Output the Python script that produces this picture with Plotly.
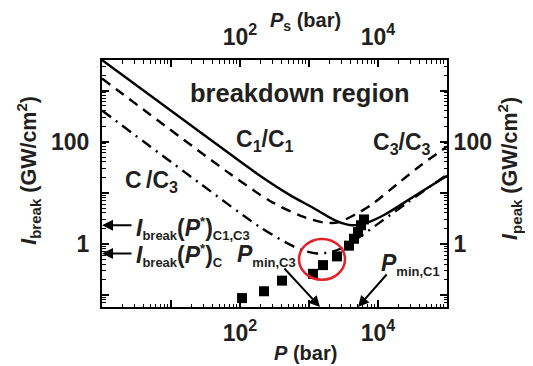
import plotly.graph_objects as go

# ---- data ----
solid_p = [1, 26.3, 195, 531, 1143, 2381, 4200, 7160, 12600, 32100, 100000]
solid_i = [3981, 155, 21.5, 8.96, 5.07, 2.87, 2.30, 2.62, 3.73, 8.21, 21.5]

dash_p = [1, 71.6, 272, 741, 1596, 2630, 4640, 7650, 19500, 40600, 100000]
dash_i = [1730, 23.5, 6.89, 3.57, 2.62, 2.62, 3.73, 5.53, 15.2, 33.4, 80.3]

dd_p = [1, 26.3, 195, 531, 819, 1306, 2228, 3325, 4960, 10700, 26300, 100000]
dd_i = [407, 15.2, 2.11, 0.957, 0.736, 0.645, 0.704, 0.877, 1.25, 2.62, 6.31, 22.5]

sq_p = [107, 223, 406, 1143, 1596, 2545, 3800, 4490, 5130, 5670, 6270]
sq_i = [0.086, 0.117, 0.189, 0.257, 0.381, 0.565, 0.916, 1.25, 1.69, 2.30, 2.99]

x_tickvals = [1, 10, 100, 1000, 10000, 100000]
x_ticktext = ["", "", "<b>10<sup>2</sup></b>", "", "<b>10<sup>4</sup></b>", ""]
y_tickvals = [0.1, 1, 10, 100, 1000]
y_ticktext = ["", "<b>1</b>", "", "<b>100</b>", ""]

FONT = "Liberation Sans, Arial, sans-serif"
TXT = "#231f20"

def minor_vals(lo, hi):
    out = []
    for e in range(lo, hi):
        for m in range(2, 10):
            out.append(m * 10 ** e)
    return out

fig = go.Figure()
fig.add_trace(go.Scatter(x=solid_p, y=solid_i, mode="lines",
                         line=dict(color="black", width=2.4, shape="spline", smoothing=0.8), hoverinfo="skip"))
fig.add_trace(go.Scatter(x=dash_p, y=dash_i, mode="lines", xaxis="x2", yaxis="y2",
                         line=dict(color="black", width=2.4, dash="10px,7px", shape="spline", smoothing=0.8), hoverinfo="skip"))
fig.add_trace(go.Scatter(x=dd_p, y=dd_i, mode="lines",
                         line=dict(color="black", width=2.4, dash="11px,6px,2px,6px", shape="spline", smoothing=0.8), hoverinfo="skip"))
fig.add_trace(go.Scatter(x=sq_p, y=sq_i, mode="markers",
                         marker=dict(symbol="square", size=10, color="black"), hoverinfo="skip"))

axis_common = dict(
    type="log", showgrid=False, zeroline=False, showline=True, linewidth=2, linecolor="black",
    ticks="inside", ticklen=7, tickwidth=1.5, tickcolor="black",
    tickfont=dict(family=FONT, size=23, color=TXT, weight="bold"),
)
minor_x = dict(tickmode="array", tickvals=minor_vals(0, 5), ticks="inside", ticklen=3.5, tickwidth=1, tickcolor="black")
minor_y = dict(tickmode="array", tickvals=minor_vals(-2, 4), ticks="inside", ticklen=3.5, tickwidth=1, tickcolor="black")

# page has an 8px body margin: figure is shrunk so the plot area lands on the reference pixels
fig.update_layout(
    width=525, height=358,
    margin=dict(l=94, r=86, t=45, b=59),
    paper_bgcolor="white", plot_bgcolor="white",
    showlegend=False,
    font=dict(family=FONT, color=TXT),
    xaxis=dict(**axis_common, range=[0, 5], tickmode="array", tickvals=x_tickvals, ticktext=x_ticktext,
               minor=minor_x, anchor="y", ticklabelstandoff=4),
    xaxis2=dict(**axis_common, range=[0, 5], tickmode="array", tickvals=x_tickvals, ticktext=x_ticktext,
                minor=minor_x, overlaying="x", side="top", anchor="y2", ticklabelstandoff=4),
    yaxis=dict(**axis_common, range=[-1.24, 3.6], tickmode="array", tickvals=y_tickvals, ticktext=y_ticktext,
               minor=minor_y, anchor="x", ticklabelstandoff=6),
    yaxis2=dict(**axis_common, range=[-1.24, 3.6], tickmode="array", tickvals=y_tickvals, ticktext=y_ticktext,
                minor=minor_y, overlaying="y", side="right", anchor="x2", ticklabelstandoff=0),
)

# reference-pixel -> paper helpers for annotations
L, R, T, B = 102, 447, 53, 307
def px(x):
    return (x - L) / (R - L)
def py(y):
    return (B - y) / (B - T)

def txt(x, y, text, size=23, xanchor="center", angle=0):
    fig.add_annotation(x=px(x), y=py(y), xref="paper", yref="paper", text=text, showarrow=False,
                       xanchor=xanchor, yanchor="middle", textangle=angle,
                       font=dict(family=FONT, size=size, color=TXT, weight="bold"))

def arrow(hx, hy, tx, ty):
    fig.add_annotation(x=px(hx), y=py(hy), xref="paper", yref="paper", text="", showarrow=True,
                       ax=tx - hx, ay=ty - hy, arrowhead=2, arrowsize=1.1, arrowwidth=2, arrowcolor="black")

def s(t, size=13):
    return f'<span style="font-size:{size}px">{t}</span>'

txt(300, 87, "breakdown region", 25.5)
txt(265, 136, "C<sub>1</sub>/C<sub>1</sub>", 23)
txt(402, 139, "C<sub>3</sub>/C<sub>3</sub>", 23)
txt(151, 178, "C<sub>\u00a0</sub>/C<sub>3</sub>", 23)
txt(134, 226, "<i>I</i><sub>" + s("break") + "</sub>(<i>P</i><sup>" + s("*") + "</sup>)<sub>" + s("C1,C3") + "</sub>", 23, "left")
txt(134, 254, "<i>I</i><sub>" + s("break") + "</sub>(<i>P</i><sup>" + s("*") + "</sup>)<sub>" + s("C") + "</sub>", 23, "left")
txt(235, 254, "<i>P</i><sub>" + s("min,C3") + "</sub>", 23, "left")
txt(379, 263, "<i>P</i><sub>" + s("min,C1") + "</sub>", 23, "left")

txt(305, 354, "<i>P</i> (bar)", 20)
txt(305, 13, "<i>P</i><sub>s</sub> (bar)", 20)
txt(29, 167, "<i>I</i><sub>break</sub> (GW/cm<sup>2</sup>)", 21.5, angle=-90)
txt(510, 165, "<i>I</i><sub>peak</sub> (GW/cm<sup>2</sup>)", 21.5, angle=-90)

arrow(102, 223, 133, 223)
arrow(102, 252, 133, 252)
arrow(320, 307, 283, 267)
arrow(358, 307, 388, 273)

fig.add_shape(type="circle", xref="paper", yref="paper", x0=px(299), x1=px(345), y0=py(279), y1=py(237),
              line=dict(color="#e3202a", width=2.5))

fig.write_html("out.html")
